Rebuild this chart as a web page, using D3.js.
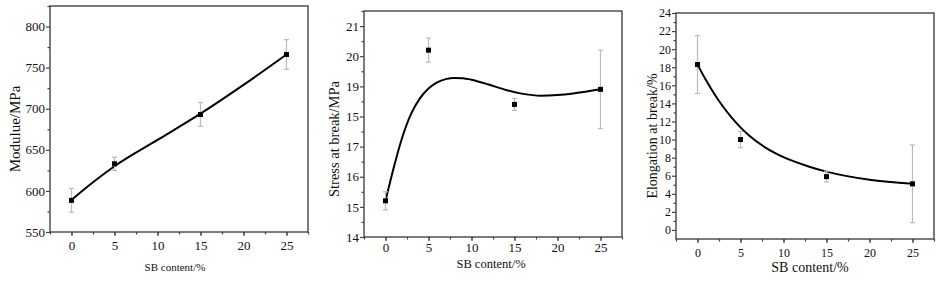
<!DOCTYPE html>
<html>
<head>
<meta charset="utf-8">
<title>SB content panels</title>
<script src="https://cdn.jsdelivr.net/npm/d3@7/dist/d3.min.js"></script>
<style>
  body { margin: 0; background: #fff; }
  svg text { font-family: "Liberation Serif", "DejaVu Serif", serif; fill: #111; }
</style>
</head>
<body>
<svg id="chart" width="937" height="284"></svg>
<script>
// ---- data ----
const sbContent = [0, 5, 15, 25];
const xTicks = [0, 5, 10, 15, 20, 25];

const modulus = [588.5, 633, 693, 766];
const modulusErr = [14.5, 8, 14.5, 18];
const modulusFitX = [0, 2.5, 5, 10, 15, 20, 25];
const modulusFitY = [589, 610.5, 630, 662, 694, 729, 766];
const modulusTicks = [550, 600, 650, 700, 750, 800];

const stress = [15.2, 20.2, 18.4, 18.9];
const stressErr = [0.3, 0.4, 0.2, 1.3];
const stressFitX = [0, 1, 2, 3, 4, 5, 6, 7, 8, 9, 10, 12, 14, 16, 18, 20, 22, 25];
const stressFitY = [15.2, 16.35, 17.35, 18.1, 18.6, 18.93, 19.13, 19.24, 19.28, 19.27, 19.22, 19.06, 18.88, 18.75, 18.69, 18.71, 18.77, 18.9];
const stressTicks = [14, 15, 16, 17, 18, 19, 20, 21];
const stressTickLabels = ["14", "15", "16", "17", "15", "19", "20", "21"];

const elongation = [18.3, 10.0, 5.9, 5.1];
const elongationErr = [3.2, 0.9, 0.6, 4.3];
const elongationFitX = [0, 1, 2, 3, 4, 5, 6, 8, 10, 13, 15, 20, 25];
const elongationFitY = [18.3, 16.55, 14.98, 13.6, 12.4, 11.35, 10.45, 9.05, 8.05, 7.0, 6.45, 5.55, 5.1];
const elongationTicks = [0, 2, 4, 6, 8, 10, 12, 14, 16, 18, 20, 22, 24];

const svg = d3.select("#chart");
const axisColor = "#444";

function panel(o) {
  const x = d3.scaleLinear().domain([-2.5, 27.5]).range([o.left, o.right]);
  const y = d3.scaleLinear().domain(o.yDomain).range([o.bottom, o.top]);
  const g = svg.append("g");

  // minor ticks
  g.append("g")
    .attr("transform", `translate(0,${o.bottom})`)
    .call(d3.axisBottom(x).tickValues(d3.range(-2.5, 27.6, 2.5)).tickSize(2.5).tickFormat(""))
    .call(a => a.select(".domain").remove());
  g.append("g")
    .attr("transform", `translate(${o.left},0)`)
    .call(d3.axisLeft(y).tickValues(o.yMinor).tickSize(2.5).tickFormat(""))
    .call(a => a.select(".domain").remove());

  // major ticks + labels
  g.append("g")
    .attr("transform", `translate(0,${o.bottom})`)
    .call(d3.axisBottom(x).tickValues(xTicks).tickSize(4).tickPadding(o.xPad))
    .call(a => a.select(".domain").remove())
    .call(a => a.selectAll("text").attr("font-size", o.tickFont).attr("font-family", null));
  g.append("g")
    .attr("transform", `translate(${o.left},0)`)
    .call(d3.axisLeft(y).tickValues(o.yTicks).tickSize(4).tickPadding(1)
      .tickFormat((d, i) => o.yLabels ? o.yLabels[i] : d))
    .call(a => a.select(".domain").remove())
    .call(a => a.selectAll("text").attr("font-size", o.tickFont).attr("font-family", null));
  g.selectAll(".tick line").attr("stroke", axisColor).attr("stroke-width", 1.2);

  // frame
  g.append("rect")
    .attr("x", o.left).attr("y", o.top)
    .attr("width", o.right - o.left).attr("height", o.bottom - o.top)
    .attr("fill", "none").attr("stroke", axisColor).attr("stroke-width", 1.4);

  // fitted curve
  const fit = o.fitX.map((d, i) => [d, o.fitY[i]]);
  g.append("path")
    .datum(fit)
    .attr("fill", "none")
    .attr("stroke", "#000")
    .attr("stroke-width", 2)
    .attr("d", d3.line().x(d => x(d[0])).y(d => y(d[1])).curve(d3.curveMonotoneX));

  // error bars
  const pts = sbContent.map((d, i) => ({ x: d, y: o.values[i], e: o.errors[i] }));
  const eb = g.append("g").attr("stroke", "#bbb").attr("stroke-width", 1.2);
  eb.selectAll("line.v").data(pts).join("line")
    .attr("x1", d => x(d.x)).attr("x2", d => x(d.x))
    .attr("y1", d => y(d.y - d.e)).attr("y2", d => y(d.y + d.e));
  eb.selectAll("line.t").data(pts).join("line")
    .attr("x1", d => x(d.x) - 2.5).attr("x2", d => x(d.x) + 2.5)
    .attr("y1", d => y(d.y + d.e)).attr("y2", d => y(d.y + d.e));
  eb.selectAll("line.b").data(pts).join("line")
    .attr("x1", d => x(d.x) - 2.5).attr("x2", d => x(d.x) + 2.5)
    .attr("y1", d => y(d.y - d.e)).attr("y2", d => y(d.y - d.e));

  // points
  g.selectAll("rect.pt").data(pts).join("rect")
    .attr("x", d => x(d.x) - 2.5).attr("y", d => y(d.y) - 2.5)
    .attr("width", 5).attr("height", 5).attr("fill", "#000");

  // titles
  g.append("text")
    .attr("x", o.xTitle[0]).attr("y", o.xTitle[1])
    .attr("text-anchor", "middle").attr("font-size", o.xTitleFont)
    .text("SB content/%");
  g.append("text")
    .attr("transform", `translate(${o.yTitle[0]},${o.yTitle[1]}) rotate(-90)`)
    .attr("text-anchor", "middle").attr("font-size", o.yTitleFont)
    .text(o.yLabel);
}

panel({
  left: 50, right: 308, top: 6, bottom: 232,
  yDomain: [550, 825], yTicks: modulusTicks, yMinor: d3.range(575, 826, 50),
  values: modulus, errors: modulusErr, fitX: modulusFitX, fitY: modulusFitY,
  tickFont: 13, xPad: 5, xTitleFont: 11, yTitleFont: 15,
  xTitle: [175, 271], yTitle: [20, 129], yLabel: "Modulue/MPa"
});

panel({
  left: 364, right: 622, top: 11, bottom: 237,
  yDomain: [14, 21.5], yTicks: stressTicks, yLabels: stressTickLabels,
  yMinor: d3.range(14.5, 21.6, 1),
  values: stress, errors: stressErr, fitX: stressFitX, fitY: stressFitY,
  tickFont: 13, xPad: 2, xTitleFont: 12.5, yTitleFont: 14.5,
  xTitle: [491, 268], yTitle: [339, 139], yLabel: "Stress at break/MPa"
});

panel({
  left: 676, right: 934, top: 13, bottom: 239,
  yDomain: [-1, 24], yTicks: elongationTicks, yMinor: d3.range(1, 24, 2),
  values: elongation, errors: elongationErr, fitX: elongationFitX, fitY: elongationFitY,
  tickFont: 12, xPad: 5, xTitleFont: 14, yTitleFont: 14,
  xTitle: [810, 272], yTitle: [657, 136], yLabel: "Elongation at break/%"
});
</script>
</body>
</html>
